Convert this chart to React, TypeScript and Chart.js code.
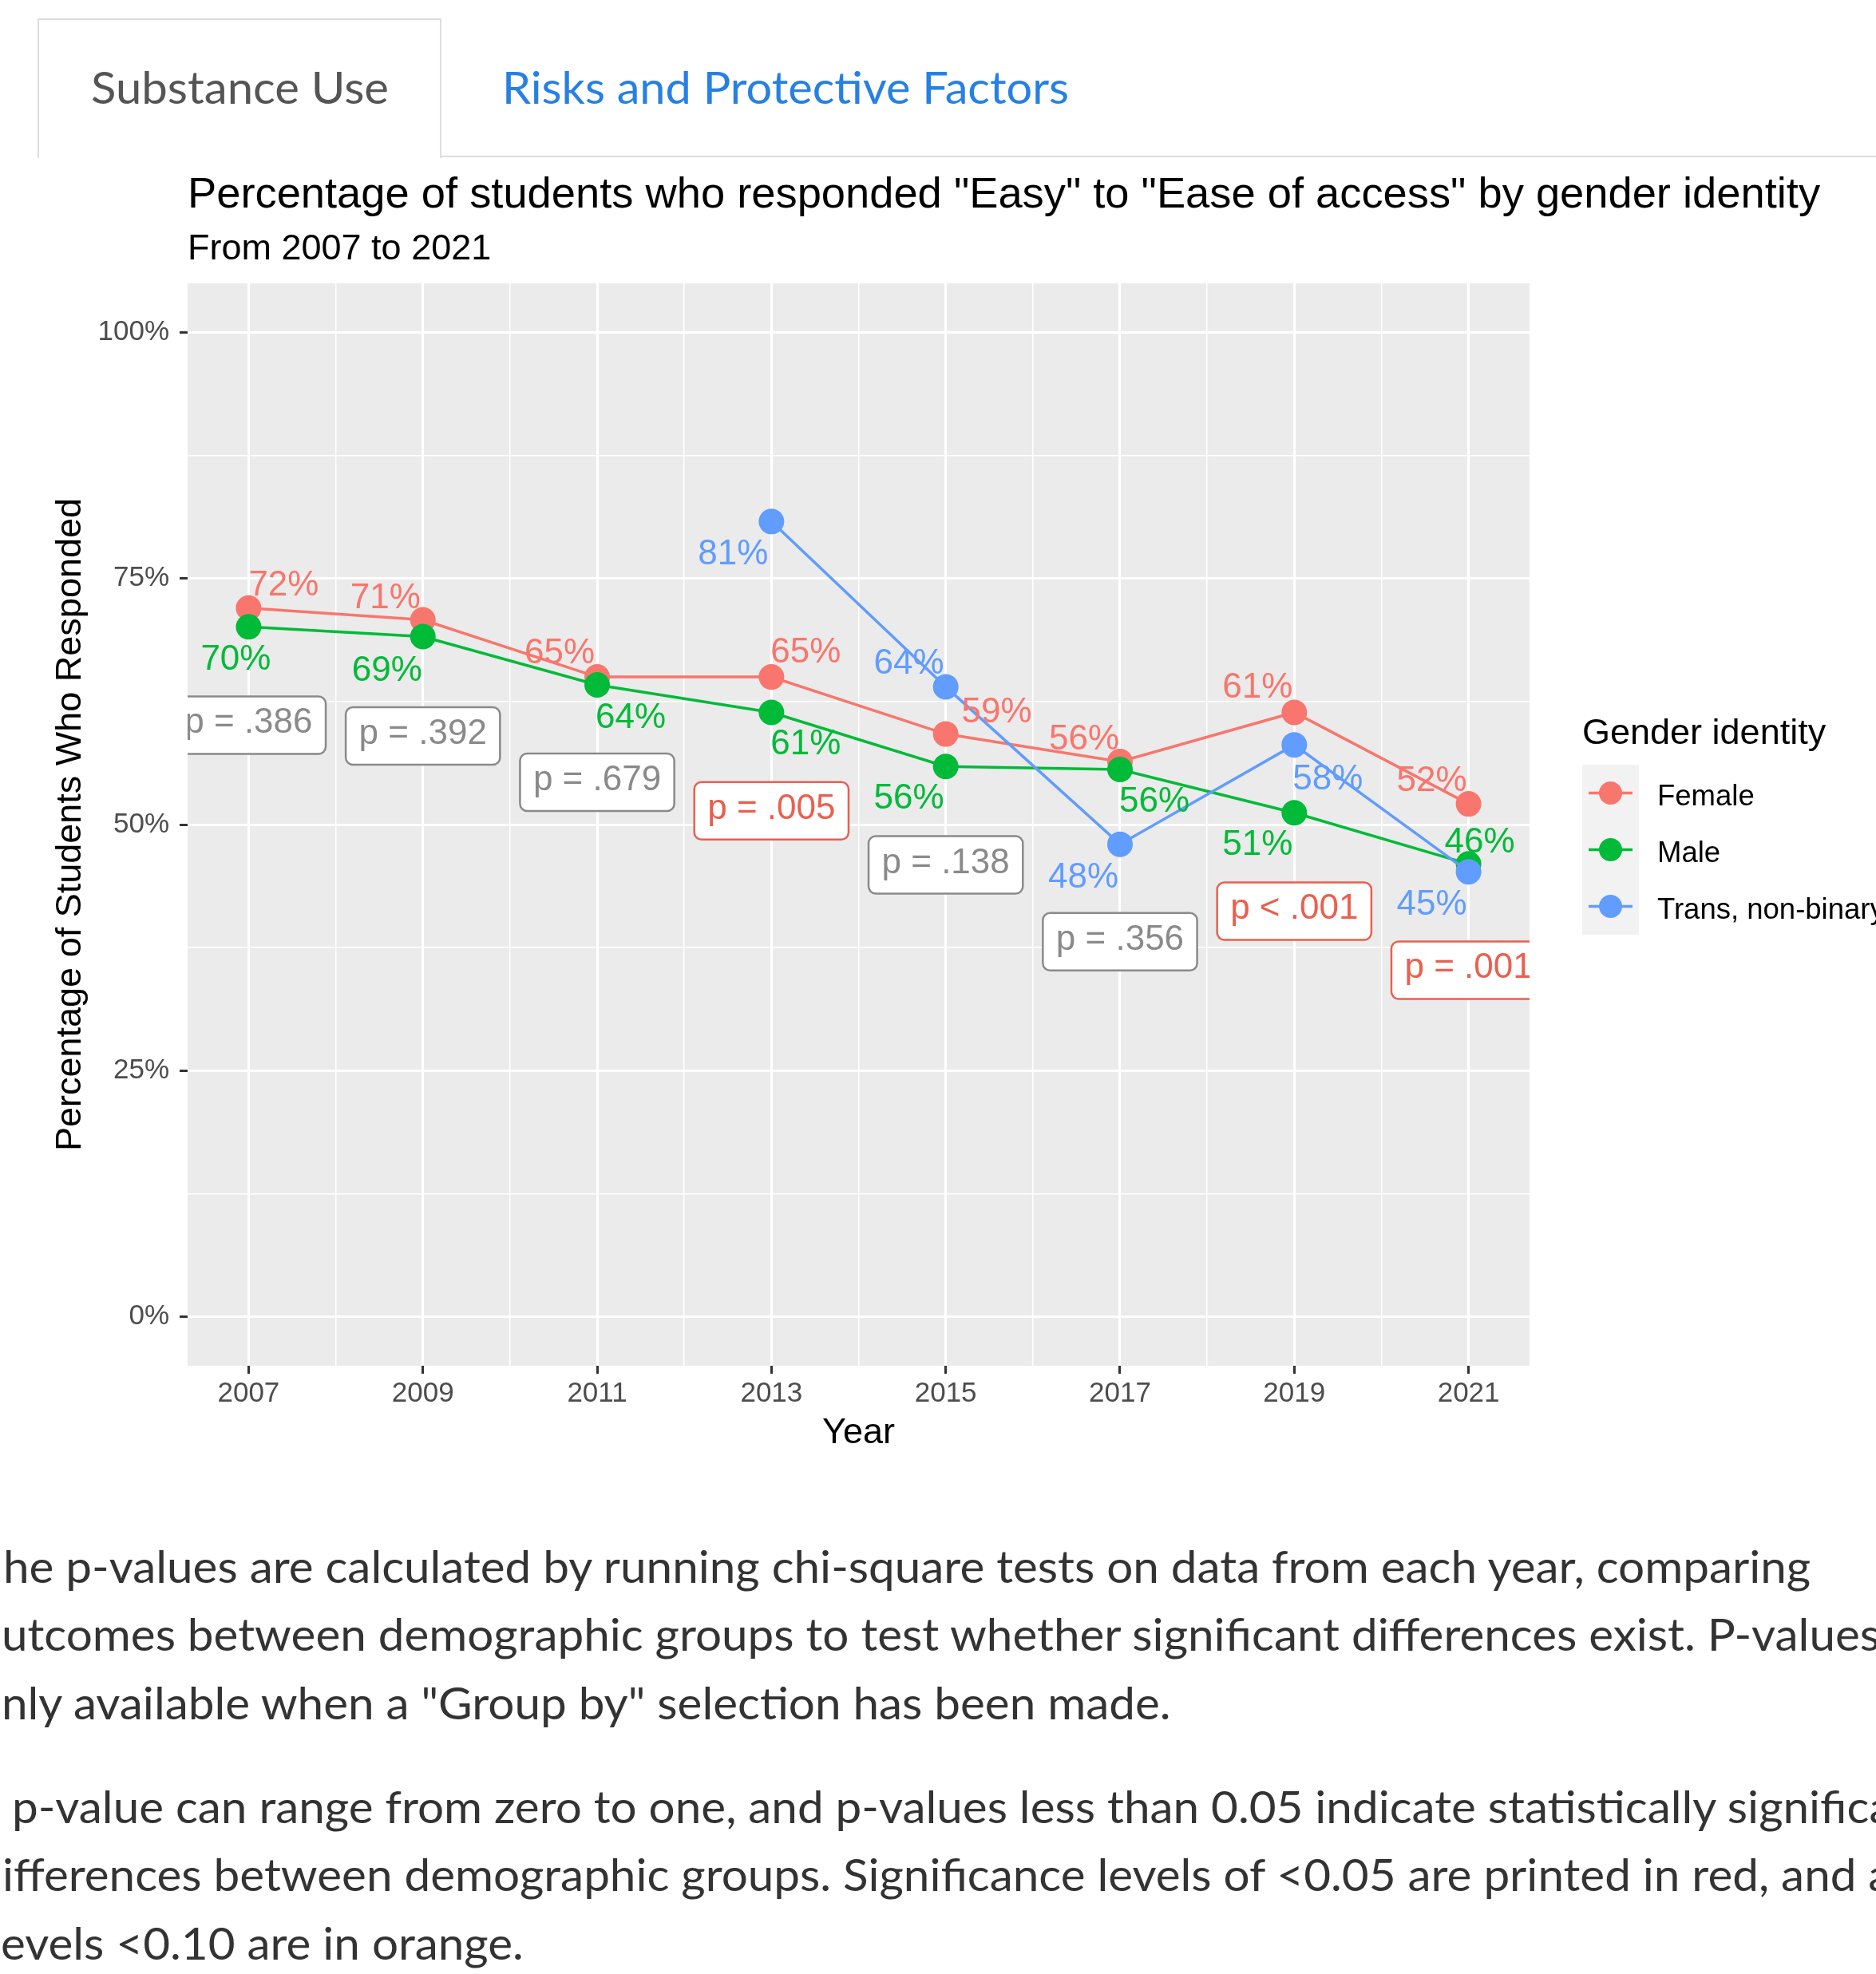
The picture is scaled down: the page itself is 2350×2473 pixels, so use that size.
import React, { useEffect, useRef } from "react";
import { Chart, registerables } from "chart.js";

Chart.register(...registerables);

const PLOT_FONT = "'Liberation Sans', Arial, Helvetica, sans-serif";
const PAGE_FONT = "Lato, 'Noto Sans', sans-serif";

// ---------------- data ----------------
const years = [2007, 2009, 2011, 2013, 2015, 2017, 2019, 2021];
const femaleValues = [72.0, 70.8, 65.0, 65.0, 59.2, 56.4, 61.4, 52.1];
const maleValues = [70.1, 69.1, 64.2, 61.4, 55.9, 55.6, 51.2, 46.0];
const transValues = [null, null, null, 80.8, 64.0, 48.0, 58.1, 45.2];
const seriesNames = ["Female", "Male", "Trans, non-binary"];
const yTickValues = [0, 25, 50, 75, 100];
const pValueLabels = ["p = .386", "p = .392", "p = .679", "p = .005", "p = .138", "p = .356", "p < .001", "p = .001"];
const pValueLabelLevels = [60.1, 59.0, 54.3, 51.4, 45.9, 38.1, 41.2, 35.2];

const chartTitle = 'Percentage of students who responded "Easy" to "Ease of access" by gender identity';
const chartSubtitle = "From 2007 to 2021";
const xAxisTitle = "Year";
const yAxisTitle = "Percentage of Students Who Responded";
const legendTitle = "Gender identity";

// ---------------- styles ----------------
const seriesColors = ["#F8766D", "#00BA38", "#619CFF"];
const SIG_COLOR = "#E9604F";
const NS_COLOR = "#8A8A8A";
// pixel offsets from each point's centre to its label's centre
const labelOffsets: (number[] | null)[][] = [
  [[44, -32], [-47, -31], [-47, -33], [43, -34], [64, -31], [-45, -31], [-46, -34], [-46, -32]],
  [[-16, 38], [-45, 39], [42, 38], [43, 37], [-46, 37], [43, 37], [-46, 37], [14, -30]],
  [null, null, null, [-48, 38], [-46, -32], [-46, 38], [42, 40], [-46, 38]],
];

const seriesValues = [femaleValues, maleValues, transValues];
const xGridValues = years.flatMap((y, i) => (i < years.length - 1 ? [y, (y + years[i + 1]) / 2] : [y]));
const yGridValues = yTickValues.flatMap((v, i) =>
  i < yTickValues.length - 1 ? [v, (v + yTickValues[i + 1]) / 2] : [v]
);

const CANVAS_TOP = 200;

let mctx: CanvasRenderingContext2D | null = null;
function measure(text: string, font: string) {
  if (!mctx) mctx = document.createElement("canvas").getContext("2d");
  mctx!.font = font;
  return mctx!.measureText(text);
}

const PAGE_SIZE = 56;
const LINE_H = 85;
function topForBaseline(baseline: number) {
  const m = measure("Hg", `${PAGE_SIZE}px ${PAGE_FONT}`);
  const asc = (m as any).fontBoundingBoxAscent ?? PAGE_SIZE * 0.987;
  const desc = (m as any).fontBoundingBoxDescent ?? PAGE_SIZE * 0.213;
  return baseline - ((LINE_H - (asc + desc)) / 2 + asc);
}

const noteLines = [
  { hidden: "T", text: "he p-values are calculated by running chi-square tests on data from each year, comparing", x: 4, baseline: 1983 },
  { hidden: "o", text: "utcomes between demographic groups to test whether significant differences exist. P-values are", x: 2, baseline: 2068 },
  { hidden: "o", text: 'nly available when a "Group by" selection has been made.', x: 2, baseline: 2154 },
  { hidden: "A", text: " p-value can range from zero to one, and p-values less than 0.05 indicate statistically significant", x: 0, baseline: 2284 },
  { hidden: "d", text: "ifferences between demographic groups. Significance levels of <0.05 are printed in red, and a", x: 3, baseline: 2369 },
  { hidden: "l", text: "evels <0.10 are in orange.", x: 1, baseline: 2455 },
];

const ggPlugin = {
  id: "ggextras",
  beforeDraw(chart: any) {
    const { ctx, chartArea: a } = chart;
    ctx.save();
    ctx.fillStyle = "#EBEBEB";
    ctx.fillRect(a.left, a.top, a.right - a.left, a.bottom - a.top);
    ctx.restore();
  },
  afterDatasetsDraw(chart: any) {
    const { ctx, chartArea: a } = chart;
    const xs = chart.scales.x;
    const ys = chart.scales.y;
    ctx.save();
    ctx.beginPath();
    ctx.rect(a.left, a.top, a.right - a.left, a.bottom - a.top);
    ctx.clip();
    // value labels
    ctx.font = `44px ${PLOT_FONT}`;
    ctx.textAlign = "center";
    ctx.textBaseline = "alphabetic";
    seriesValues.forEach((vals, si) => {
      vals.forEach((v, i) => {
        if (v == null) return;
        const off = labelOffsets[si][i] || [0, -32];
        const px = xs.getPixelForValue(years[i]);
        const py = ys.getPixelForValue(v);
        ctx.fillStyle = seriesColors[si];
        ctx.fillText(Math.round(v) + "%", px + off[0], py + off[1] + 16);
      });
    });
    // p-value boxes
    pValueLabels.forEach((lab, i) => {
      const num = parseFloat(lab.replace(/[^0-9.]/g, ""));
      const sig = lab.includes("<") || num < 0.05;
      const color = sig ? SIG_COLOR : NS_COLOR;
      const cx = xs.getPixelForValue(years[i]);
      const cy = ys.getPixelForValue(pValueLabelLevels[i]);
      const tw = ctx.measureText(lab).width;
      const bw = tw + 33;
      const bh = 72;
      ctx.beginPath();
      ctx.roundRect(cx - bw / 2, cy - bh / 2, bw, bh, 9);
      ctx.fillStyle = "#FFFFFF";
      ctx.fill();
      ctx.lineWidth = 2.5;
      ctx.strokeStyle = color;
      ctx.stroke();
      ctx.fillStyle = color;
      ctx.fillText(lab, cx, cy + 10);
    });
    ctx.restore();
  },
  afterDraw(chart: any) {
    const { ctx, chartArea: a } = chart;
    ctx.save();
    ctx.textAlign = "left";
    ctx.textBaseline = "alphabetic";
    ctx.fillStyle = "#000000";
    ctx.font = `54.3px ${PLOT_FONT}`;
    ctx.fillText(chartTitle, a.left, 60);
    ctx.font = `45px ${PLOT_FONT}`;
    ctx.fillText(chartSubtitle, a.left, 125);

    // legend
    const lx = 1982;
    ctx.font = `45px ${PLOT_FONT}`;
    ctx.fillText(legendTitle, lx, 732);
    const keyTop = 758;
    const keySize = 71;
    seriesNames.forEach((name, i) => {
      const top = keyTop + i * keySize;
      const cy = top + keySize / 2;
      ctx.fillStyle = "#F2F2F2";
      ctx.fillRect(lx, top, keySize, keySize);
      ctx.strokeStyle = seriesColors[i];
      ctx.lineWidth = 3.5;
      ctx.beginPath();
      ctx.moveTo(lx + 8, cy);
      ctx.lineTo(lx + keySize - 8, cy);
      ctx.stroke();
      ctx.fillStyle = seriesColors[i];
      ctx.beginPath();
      ctx.arc(lx + keySize / 2, cy, 14.5, 0, Math.PI * 2);
      ctx.fill();
      ctx.fillStyle = "#000000";
      ctx.font = `36.5px ${PLOT_FONT}`;
      ctx.fillText(name, 2076, cy + 15);
    });
    ctx.restore();
  },
};

function ChartCanvas() {
  const ref = useRef<HTMLCanvasElement>(null);
  useEffect(() => {
    const datasets = seriesNames.map((name, si) => ({
      label: name,
      data: years.map((y, i) => ({ x: y, y: seriesValues[si][i] })),
      borderColor: seriesColors[si],
      backgroundColor: seriesColors[si],
      pointBackgroundColor: seriesColors[si],
      pointBorderWidth: 0,
      pointRadius: 16,
      borderWidth: 3.5,
      tension: 0,
      spanGaps: false,
      order: 3 - si,
    }));
    const isMajorX = (v: number) => years.includes(v);
    const isMajorY = (v: number) => yTickValues.includes(v);
    const chart = new Chart(ref.current as HTMLCanvasElement, {
      type: "line",
      data: { datasets: datasets as any },
      plugins: [ggPlugin as any],
      options: {
        responsive: false,
        animation: false,
        devicePixelRatio: 1,
        layout: { padding: { left: 0, top: 155, right: 434, bottom: 19 } },
        plugins: {
          legend: { display: false },
          tooltip: { enabled: false },
          title: { display: false },
        },
        scales: {
          x: {
            type: "linear",
            min: 2006.3,
            max: 2021.7,
            afterBuildTicks: (axis: any) => {
              axis.ticks = xGridValues.map((v) => ({ value: v }));
            },
            afterFit: (axis: any) => {
              axis.height = 130;
            },
            ticks: {
              autoSkip: false,
              maxRotation: 0,
              minRotation: 0,
              padding: 4,
              color: "#4D4D4D",
              font: { family: PLOT_FONT, size: 35 },
              callback: (v: any) => (isMajorX(Number(v)) ? String(v) : ""),
            },
            grid: {
              color: "#FFFFFF",
              lineWidth: (c: any) => (c.tick && isMajorX(c.tick.value) ? 3 : 1.5),
              tickColor: (c: any) => (c.tick && isMajorX(c.tick.value) ? "#333333" : "rgba(0,0,0,0)"),
              tickLength: 10,
              tickWidth: 3,
              drawTicks: true,
            },
            border: { display: false },
            title: {
              display: true,
              text: xAxisTitle,
              color: "#000000",
              font: { family: PLOT_FONT, size: 45 },
              padding: { top: 0, bottom: 18 },
            },
          },
          y: {
            type: "linear",
            min: -5,
            max: 105,
            afterBuildTicks: (axis: any) => {
              axis.ticks = yGridValues.map((v) => ({ value: v }));
            },
            afterFit: (axis: any) => {
              axis.width = 235;
            },
            ticks: {
              autoSkip: false,
              padding: 13,
              color: "#4D4D4D",
              font: { family: PLOT_FONT, size: 35 },
              callback: (v: any) => (isMajorY(Number(v)) ? `${v}%` : ""),
            },
            grid: {
              color: "#FFFFFF",
              lineWidth: (c: any) => (c.tick && isMajorY(c.tick.value) ? 3 : 1.5),
              tickColor: (c: any) => (c.tick && isMajorY(c.tick.value) ? "#333333" : "rgba(0,0,0,0)"),
              tickLength: 10,
              tickWidth: 3,
              drawTicks: true,
            },
            border: { display: false },
            title: {
              display: true,
              text: yAxisTitle,
              color: "#000000",
              font: { family: PLOT_FONT, size: 45 },
              padding: { top: 62, bottom: 0 },
            },
          },
        },
      } as any,
    });
    return () => chart.destroy();
  }, []);
  return (
    <canvas
      ref={ref}
      width={2350}
      height={1660}
      style={{ position: "absolute", left: 0, top: CANVAS_TOP, width: 2350, height: 1660, display: "block" }}
    />
  );
}

function FitText(props: { text: string; hidden?: string; x: number; baseline: number; width?: number; scale?: number; color: string }) {
  const font = `${PAGE_SIZE}px ${PAGE_FONT}`;
  const k = props.scale ?? (props.width ? props.width / measure(props.text, font).width : 1);
  return (
    <div
      style={{
        position: "absolute",
        left: props.x,
        top: topForBaseline(props.baseline),
        fontFamily: PAGE_FONT,
        fontSize: PAGE_SIZE,
        lineHeight: `${LINE_H}px`,
        whiteSpace: "pre",
        color: props.color,
        transform: `scaleX(${k})`,
        transformOrigin: "0 0",
      }}
    >
      {props.hidden ? (
        <span style={{ position: "absolute", right: "calc(100% + 14px)", top: 0 }}>{props.hidden}</span>
      ) : null}
      {props.text}
    </div>
  );
}

export default function App() {
  const noteScale = 2267 / measure(noteLines[0].text, `${PAGE_SIZE}px ${PAGE_FONT}`).width;
  return (
    <div
      style={{
        position: "fixed",
        left: 0,
        top: 0,
        width: 2350,
        height: 2473,
        overflow: "hidden",
        background: "#FFFFFF",
      }}
    >
      {/* tabs */}
      <div
        style={{
          position: "absolute",
          left: 47,
          top: 23,
          width: 506,
          height: 175,
          border: "2px solid #DDDDDD",
          borderBottom: "none",
          boxSizing: "border-box",
          background: "#FFFFFF",
        }}
      />
      <div style={{ position: "absolute", left: 552, top: 195, width: 1798, height: 2, background: "#DDDDDD" }} />
      <FitText text="Substance Use" x={114} baseline={130} width={373} color="#555555" />
      <FitText text="Risks and Protective Factors" x={629} baseline={130} width={710} color="#2780E3" />

      <ChartCanvas />

      {noteLines.map((l, i) => (
        <FitText key={i} text={l.text} hidden={l.hidden} x={l.x} baseline={l.baseline} scale={noteScale} color="#333333" />
      ))}
    </div>
  );
}
